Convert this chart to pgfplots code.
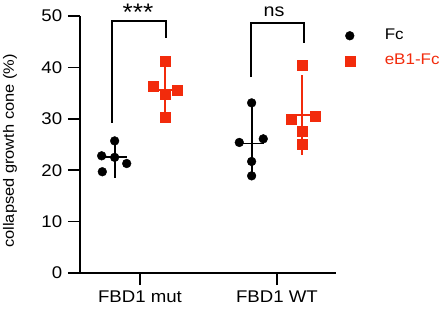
\documentclass[border=0pt]{standalone}
\usepackage{pgfplots}
\pgfplotsset{compat=1.18}
\usepackage{fontspec}
\setmainfont{Liberation Sans}[FakeStretch=1.1]
\definecolor{myred}{RGB}{242,43,12}
\pgfplotsset{mylegimg/.style={legend image code/.code={\path[draw=none] (0bp,0bp) -- (50bp,0bp); \draw[##1] plot coordinates {(17bp,0bp)};}}}
\begin{document}
\fontsize{17}{21}\selectfont
\begin{tikzpicture}
\begin{axis}[
  scale only axis, width=256bp, height=257bp,
  xmin=-0.438, xmax=1.431, ymin=0, ymax=50,
  axis lines=left,
  axis line style={line width=1.5bp, -},
  xtick={0,1}, xticklabels={FBD1 mut, FBD1 WT},
  ytick={0,10,20,30,40,50},
  tick style={line width=1.5bp, black},
  major tick length=12bp, tick align=outside,
  /pgf/number format/assume math mode=true,
  ticklabel style={font=\fontsize{17}{21}\selectfont},
  ylabel={collapsed growth cone (\%)},
  ylabel style={font=\fontsize{15}{18}\selectfont, at={(axis description cs:-0.273,0.475)}, anchor=center},
  clip=false,
  legend cell align=left,
  legend style={draw=none, fill=none, at={(axis description cs:0.975,0.965)}, anchor=north west, row sep=8bp,
    font=\fontsize{15.5}{19}\selectfont},
]
\addlegendimage{only marks, mark=*, black, mark size=4.4bp, mylegimg}
\addlegendentry{Fc}
\addlegendimage{only marks, mark=square*, myred, mark size=5bp, mylegimg}
\addlegendentry{\textcolor{myred}{eB1-Fc}}

% individual points
\addplot[only marks, mark=*, black, mark size=4.4bp] coordinates {
 (-0.185,25.7) (-0.280,22.8) (-0.185,22.5) (-0.097,21.3) (-0.275,19.7)
 (0.815,33.1) (0.725,25.4) (0.900,26.1) (0.815,21.7) (0.815,18.9)
};
\addplot[only marks, mark=square*, myred, mark size=5bp] coordinates {
 (0.182,41.2) (0.097,36.4) (0.182,34.8) (0.272,35.5) (0.182,30.4)
 (1.185,40.5) (1.102,29.9) (1.277,30.6) (1.185,27.6) (1.185,25.0)
};

% mean and SD
\addplot[only marks, black, line width=1.9bp, mark=-, mark size=12bp,
  error bars/.cd, y dir=both, y explicit, error mark=-,
  error bar style={line width=1.9bp, black}, error mark options={mark size=9bp, line width=1.9bp, black}]
 coordinates {(-0.185,22.5) +- (0,2.25) (0.815,25.2) +- (0,5.4)};
\addplot[only marks, myred, line width=1.9bp, mark=-, mark size=12bp,
  error bars/.cd, y dir=both, y explicit, error mark=-,
  error bar style={line width=1.9bp, myred}, error mark options={mark size=9bp, line width=1.9bp, myred}]
 coordinates {(0.182,35.6) +- (0,3.9) (1.185,30.7) +- (0,6.0)};

% significance brackets
\draw[line width=1.8bp] (axis cs:-0.207,29.2) -- (axis cs:-0.207,49.1) -- (axis cs:0.190,49.1) -- (axis cs:0.190,45.7);
\node[anchor=base, inner sep=0pt, font=\fontsize{24}{26}\selectfont] at (axis cs:-0.015,49.1) {\smash{***}};
\draw[line width=1.8bp] (axis cs:0.810,38.1) -- (axis cs:0.810,48.6) -- (axis cs:1.197,48.6) -- (axis cs:1.197,44.8);
\node[anchor=base, font=\fontsize{18}{21}\selectfont] at (axis cs:0.978,49.9) {ns};
\end{axis}
\pgfresetboundingbox
\path[use as bounding box] (-80bp,-39bp) rectangle (365bp,273bp);
\end{tikzpicture}
\end{document}
